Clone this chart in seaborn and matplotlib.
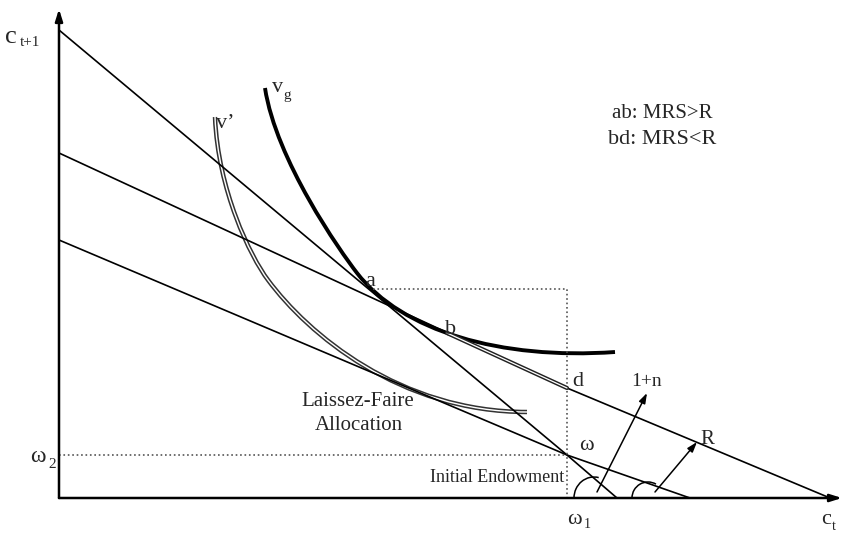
import matplotlib
matplotlib.use('Agg')
import matplotlib.pyplot as plt
from matplotlib.path import Path
from matplotlib.patches import PathPatch, Arc
import seaborn as sns

sns.set_style('white')
plt.rcParams['font.family'] = ['Liberation Serif', 'DejaVu Serif']

# ---- diagram geometry (pixel coords, y measured from the top) ----
origin = (59, 498)
y_axis_top = (59, 9)
x_axis_end = (842, 498)

# budget lines
steep_x = [59, 567, 617]
steep_y = [30, 455, 498]
mid_x = [59, 567, 830]
mid_y = [153, 388, 498]
low_x = [59, 567, 690]
low_y = [240, 455, 498]

# double segment b-d on the R line
bd_x = [447, 567]
bd_y = [333, 388]

# dotted guides
box_x = [373, 567, 567]
box_y = [289, 289, 498]
w2_x = [59, 567]
w2_y = [455, 455]

# indifference curves as cubic bezier control points
vg_pts = [(265, 88), (276, 160), (340, 251), (357, 273),
          (402, 331), (500, 360), (615, 352)]
vp_pts = [(215, 117), (218, 190), (250, 256), (268, 280),
          (308, 334), (400, 412), (527, 412)]

# arrows (start, end)
arrow_n = ((597, 492), (647, 393))
arrow_r = ((655, 492), (697, 442))

fig = plt.figure(figsize=(8.44, 5.37), dpi=100)
ax = fig.add_axes([0, 0, 1, 1])
ax.set_xlim(0, 844)
ax.set_ylim(537, 0)
ax.axis('off')

# axes with arrowheads
head = dict(arrowstyle='-|>,head_length=0.7,head_width=0.22', color='black',
            lw=1.8, shrinkA=0, shrinkB=0)
ax.annotate('', xy=y_axis_top, xytext=origin, arrowprops=head)
ax.annotate('', xy=x_axis_end, xytext=origin, arrowprops=head)

for xs, ys in [(steep_x, steep_y), (mid_x, mid_y), (low_x, low_y)]:
    sns.lineplot(x=xs, y=ys, sort=False, estimator=None, color='black', lw=1.2, ax=ax)

sns.lineplot(x=box_x, y=box_y, sort=False, estimator=None, color='#555555',
             lw=1.2, linestyle=':', ax=ax)
sns.lineplot(x=w2_x, y=w2_y, sort=False, estimator=None, color='#555555',
             lw=1.2, linestyle=':', ax=ax)


def curve(pts):
    codes = [Path.MOVETO] + [Path.CURVE4] * (len(pts) - 1)
    return Path(pts, codes)


# v' : double line
ax.add_patch(PathPatch(curve(vp_pts), fill=False, ec='#333333', lw=3.2))
ax.add_patch(PathPatch(curve(vp_pts), fill=False, ec='white', lw=1.0))
# b-d double line
sns.lineplot(x=bd_x, y=bd_y, sort=False, estimator=None, color='#222222', lw=3.0, ax=ax)
sns.lineplot(x=bd_x, y=bd_y, sort=False, estimator=None, color='white', lw=0.9, ax=ax)
# v_g : thick
ax.add_patch(PathPatch(curve(vg_pts), fill=False, ec='black', lw=2.8, capstyle='butt'))

# angle arcs
ax.add_patch(Arc((594, 498), 40, 42, theta1=180, theta2=283, color='black', lw=1.1))
ax.add_patch(Arc((648, 498), 32, 32, theta1=180, theta2=300, color='black', lw=1.1))

thin = dict(arrowstyle='-|>,head_length=0.6,head_width=0.2', color='black',
            lw=1.1, shrinkA=0, shrinkB=0)
for a0, a1 in [arrow_n, arrow_r]:
    ax.annotate('', xy=a1, xytext=a0, arrowprops=thin)


def sub_label(x, y, base, sub, size, subsize, dx, dy):
    t = ax.text(x, y, base, fontsize=size, ha='left', va='center')
    ax.text(x + dx, y + dy, sub, fontsize=subsize, ha='left', va='center')
    return t


sub_label(5, 37, 'c', 't+1', 19, 11, 15, 5)
sub_label(30, 457, 'ω', '2', 17, 11, 18, 7)
sub_label(567, 520, 'ω', '1', 16, 10, 17, 5)
sub_label(821, 520, 'c', 't', 16, 10, 11, 6)
sub_label(272, 87, 'v', 'g', 16, 11, 11, 8)
ax.text(216, 124, 'v’', fontsize=16, ha='left', va='center')

ax.text(370, 281, 'a', fontsize=16, ha='center', va='center')
ax.text(451, 329, 'b', fontsize=16, ha='center', va='center')
ax.text(578, 381, 'd', fontsize=16, ha='center', va='center')
ax.text(586, 445, 'ω', fontsize=16, ha='center', va='center')
ax.text(647, 381, '1+n', fontsize=14, ha='center', va='center')
ax.text(707, 440, 'R', fontsize=15, ha='center', va='center')

ax.text(358, 402, 'Laissez-Faire', fontsize=15, ha='center', va='center')
ax.text(359, 426, 'Allocation', fontsize=15, ha='center', va='center')
ax.text(497, 477, 'Initial Endowment', fontsize=13, ha='center', va='center')

ax.text(662, 113, 'ab: MRS>R', fontsize=15, ha='center', va='center')
ax.text(662, 139, 'bd: MRS<R', fontsize=16, ha='center', va='center')

fig.savefig('out.png', dpi=100)
